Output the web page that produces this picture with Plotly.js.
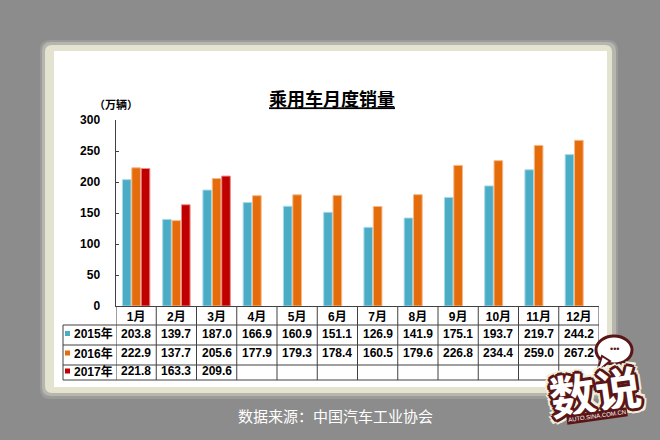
<!DOCTYPE html>
<html>
<head>
<meta charset="utf-8">
<script src="https://cdn.plot.ly/plotly-3.0.1.min.js"></script>
<style>
  html, body { margin: 0; padding: 0; background: #8c8c8c; }
  #chart { width: 660px; height: 440px; }
</style>
</head>
<body>
<div id="chart"></div>
<script>
// data (万辆)
var months = ['1月', '2月', '3月', '4月', '5月', '6月', '7月', '8月', '9月', '10月', '11月', '12月'];
var years = ['2015年', '2016年', '2017年'];
var sales2015 = [203.8, 139.7, 187.0, 166.9, 160.9, 151.1, 126.9, 141.9, 175.1, 193.7, 219.7, 244.2];
var sales2016 = [222.9, 137.7, 205.6, 177.9, 179.3, 178.4, 160.5, 179.6, 226.8, 234.4, 259.0, 267.2];
var sales2017 = [221.8, 163.3, 209.6, null, null, null, null, null, null, null, null, null];
var yTicks = [0, 50, 100, 150, 200, 250, 300];

var series = [sales2015, sales2016, sales2017];
var colors = ['#4bacc6', '#e46c0a', '#c00000'];
var edges = ['#a8dbe8', '#f6b889', '#ec8c8c'];

// plot area in pixels
var L = 116, R = 599, T = 120, B = 306;
function px(p) { return (p - L) / (R - L); }
function py(p) { return (B - p) / (B - T); }

var numFont = 'Liberation Sans, Arial, Noto Sans CJK SC, sans-serif';
var cjkFont = 'Noto Sans CJK SC, sans-serif';
var lineCol = '#404040';

function roundRect(x0, y0, x1, y1, r, fill) {
  function P(x, y) { return px(x).toFixed(5) + ',' + py(y).toFixed(5); }
  var d = 'M' + P(x0 + r, y0) + ' L' + P(x1 - r, y0) + ' Q' + P(x1, y0) + ' ' + P(x1, y0 + r) +
    ' L' + P(x1, y1 - r) + ' Q' + P(x1, y1) + ' ' + P(x1 - r, y1) +
    ' L' + P(x0 + r, y1) + ' Q' + P(x0, y1) + ' ' + P(x0, y1 - r) +
    ' L' + P(x0, y0 + r) + ' Q' + P(x0, y0) + ' ' + P(x0 + r, y0) + ' Z';
  return { type: 'path', xref: 'paper', yref: 'paper', path: d, fillcolor: fill, line: { width: 0 }, layer: 'below' };
}

var traces = series.map(function (s, k) {
  return {
    type: 'bar', name: years[k], x: months, y: s,
    marker: { color: colors[k], line: { color: edges[k], width: 1 } },
    hoverinfo: 'skip'
  };
});

var shapes = [];
// soft glow, beige frame, white card
shapes.push(roundRect(40, 40, 618, 399, 10, 'rgba(200,200,190,0.25)'));
shapes.push(roundRect(42, 42, 616, 396, 9, 'rgba(215,215,200,0.45)'));
shapes.push(roundRect(45, 45, 612, 393, 7, '#e4e3cf'));
shapes.push({ type: 'rect', xref: 'paper', yref: 'paper', x0: px(54), x1: px(607), y0: py(51), y1: py(387),
  fillcolor: '#ffffff', line: { width: 0 }, layer: 'below' });

// data table under the axis
var rowLines = [325, 345, 365, 380];
var rowText = [333.5, 353, 371];
rowLines.forEach(function (y) {
  shapes.push({ type: 'line', xref: 'paper', yref: 'paper', x0: px(63), x1: px(R), y0: py(y), y1: py(y),
    line: { color: lineCol, width: 1 } });
});
shapes.push({ type: 'line', xref: 'paper', yref: 'paper', x0: px(63), x1: px(63), y0: py(325), y1: py(380),
  line: { color: lineCol, width: 1 } });
for (var i = 0; i <= months.length; i++) {
  shapes.push({ type: 'line', xref: 'x', yref: 'paper', x0: i - 0.5, x1: i - 0.5, y0: py(B), y1: py(380),
    line: { color: lineCol, width: 1 } });
}

var annotations = [];
years.forEach(function (yr, k) {
  shapes.push({ type: 'rect', xref: 'paper', yref: 'paper', x0: px(65), x1: px(70),
    y0: py(rowText[k] + 2.5), y1: py(rowText[k] - 2.5), fillcolor: colors[k], line: { width: 0 } });
  annotations.push({ xref: 'paper', yref: 'paper', x: px(72), y: py(rowText[k]), xanchor: 'left', yanchor: 'middle',
    text: yr, showarrow: false, font: { family: numFont, size: 12, color: '#000', weight: 'bold' } });
  series[k].forEach(function (v, i) {
    if (v === null) return;
    annotations.push({ xref: 'x', yref: 'paper', x: i, y: py(rowText[k]), xanchor: 'center', yanchor: 'middle',
      text: v.toFixed(1), showarrow: false, font: { family: numFont, size: 12, color: '#000', weight: 'bold' } });
  });
});

// unit label
annotations.push({ xref: 'paper', yref: 'paper', x: px(116), y: py(104), xanchor: 'center', yanchor: 'middle',
  text: '（万辆）', showarrow: false, font: { family: cjkFont, size: 11, color: '#000', weight: 'bold' } });

// source
annotations.push({ xref: 'paper', yref: 'paper', x: px(335), y: py(415), xanchor: 'center', yanchor: 'middle',
  text: '数据来源：中国汽车工业协会', showarrow: false, font: { family: cjkFont, size: 15, color: '#ffffff' } });

// logo (rough): speech bubble + outlined "数说"
var dark = '#5a1616', cream = '#f2eedb';
shapes.push({ type: 'circle', xref: 'paper', yref: 'paper', x0: px(596), x1: px(632), y0: py(336), y1: py(364),
  fillcolor: '#ffffff', line: { color: dark, width: 3 } });
shapes.push({ type: 'path', xref: 'paper', yref: 'paper',
  path: 'M' + px(602) + ',' + py(356) + ' L' + px(597) + ',' + py(372) + ' L' + px(610) + ',' + py(361) + ' Z',
  fillcolor: '#ffffff', line: { color: dark, width: 2 } });
annotations.push({ xref: 'paper', yref: 'paper', x: px(614), y: py(349), xanchor: 'center', yanchor: 'middle',
  text: '•••', showarrow: false, font: { family: numFont, size: 9, color: dark } });
var outline = ['2px 2px', '-2px -2px', '2px -2px', '-2px 2px', '0 3px', '3px 0', '0 -3px', '-3px 0']
  .map(function (o) { return o + ' 0 ' + dark; })
  .concat(['4px 4px', '-4px -4px', '4px -4px', '-4px 4px', '0 5px', '5px 0', '0 -5px', '-5px 0']
  .map(function (o) { return o + ' 0 ' + cream; })).join(', ');
annotations.push({ xref: 'paper', yref: 'paper', x: px(595), y: py(390), xanchor: 'center', yanchor: 'middle',
  text: '数说', textangle: -8, showarrow: false,
  font: { family: cjkFont, size: 46, color: '#ffffff', weight: 'bold', shadow: outline } });
annotations.push({ xref: 'paper', yref: 'paper', x: px(597), y: py(416), xanchor: 'center', yanchor: 'middle',
  text: 'AUTO.SINA.COM.CN', textangle: -8, showarrow: false, bgcolor: dark, borderpad: 1,
  font: { family: numFont, size: 6, color: '#ffffff' } });

var layout = {
  width: 660, height: 440,
  margin: { l: L, r: 660 - R, t: T, b: 440 - B },
  paper_bgcolor: '#8c8c8c',
  plot_bgcolor: 'rgba(0,0,0,0)',
  showlegend: false,
  barmode: 'group',
  bargap: 0.3,
  bargroupgap: 0.08,
  title: {
    text: '乘用车月度销量',
    xref: 'paper', x: px(332), xanchor: 'center',
    yref: 'container', y: 1 - 100 / 440, yanchor: 'middle',
    font: { family: cjkFont, size: 18, color: '#000', weight: 'bold', lineposition: 'under' }
  },
  xaxis: {
    type: 'category', range: [-0.5, months.length - 0.5],
    showline: true, linecolor: lineCol, linewidth: 1,
    ticks: '', showgrid: false, zeroline: false,
    tickfont: { family: numFont, size: 12, color: '#000', weight: 'bold' },
    ticklabelstandoff: 0
  },
  yaxis: {
    range: [0, 300], tickvals: yTicks, ticktext: yTicks.map(String),
    showline: true, linecolor: lineCol, linewidth: 1.5,
    ticks: 'inside', ticklen: 3, tickcolor: lineCol,
    showgrid: false, zeroline: false,
    tickfont: { family: numFont, size: 12, color: '#000', weight: 'bold' },
    ticklabelstandoff: 12
  },
  shapes: shapes,
  annotations: annotations
};

Plotly.newPlot('chart', traces, layout, { displayModeBar: false, staticPlot: true });
</script>
</body>
</html>
